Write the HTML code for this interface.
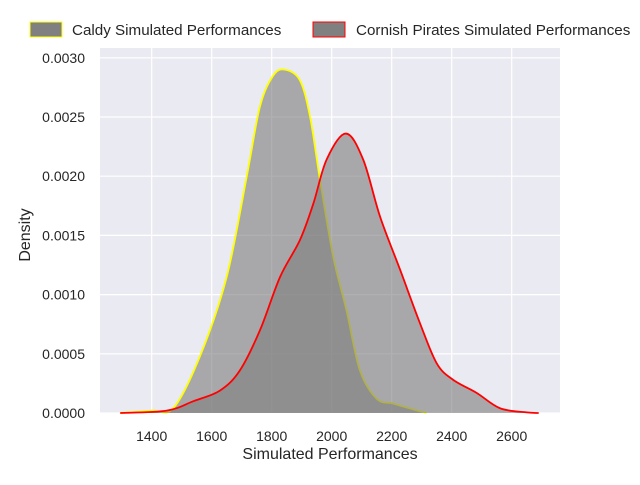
<!DOCTYPE html>
<html><head><meta charset="utf-8"><style>
body{margin:0;background:#fff;}
svg text{font-family:"Liberation Sans","DejaVu Sans",sans-serif;fill:#262626;}
</style></head><body>
<svg id="chart" width="640" height="480" viewBox="0 0 640 480" xmlns="http://www.w3.org/2000/svg">
<rect x="100" y="48" width="460" height="365" fill="#eaeaf2"/>
<g id="grid"></g>
<g id="series"></g>
<g id="ticks"></g>
<text x="330" y="459" text-anchor="middle" font-size="16">Simulated Performances</text>
<text transform="translate(30,235) rotate(-90)" text-anchor="middle" font-size="16">Density</text>
<g>
<rect x="30" y="22" width="32" height="15" fill="#808080" stroke="#ffff00" stroke-width="1"/>
<text x="72" y="35" font-size="15.2">Caldy Simulated Performances</text>
</g>
<g>
<rect x="313" y="22" width="32" height="15" fill="#808080" stroke="#ff0000" stroke-width="1"/>
<text x="356" y="35" font-size="15.2">Cornish Pirates Simulated Performances</text>
</g>
</svg>
<script>
const xTicks=[1400,1600,1800,2000,2200,2400,2600];
const yTicks=[0,0.0005,0.001,0.0015,0.002,0.0025,0.003];
const yTickLabels=["0.0000","0.0005","0.0010","0.0015","0.0020","0.0025","0.0030"];
const caldyX=[1295,1400,1472,1561,1650,1717,1761,1805,1844,1894,1928,1961,2005,2049,2094,2150,2205,2272,2316];
const caldyD=[0,0.00002,0.00004,0.00048,0.00115,0.002,0.00259,0.00285,0.0029,0.00281,0.0025,0.00197,0.00132,0.00087,0.00036,0.00012,0.00008,0.00003,0];
const cornishX=[1295,1450,1539,1628,1694,1761,1828,1894,1939,1983,2047,2105,2161,2228,2294,2350,2405,2483,2561,2650,2690];
const cornishD=[0,0.00002,0.0001,0.00019,0.00036,0.0007,0.00115,0.00146,0.00177,0.00214,0.00236,0.00214,0.00166,0.00121,0.00076,0.00042,0.00028,0.00017,0.00004,0.000005,0];
const NS="http://www.w3.org/2000/svg";
const xs=v=>151.7+(v-1400)*0.3;
const ys=d=>413-d*118400;
const grid=document.getElementById('grid'),ticks=document.getElementById('ticks'),series=document.getElementById('series');
xTicks.forEach(t=>{
  const l=document.createElementNS(NS,'line');
  l.setAttribute('x1',xs(t));l.setAttribute('x2',xs(t));l.setAttribute('y1',48);l.setAttribute('y2',413);
  l.setAttribute('stroke','#fff');l.setAttribute('stroke-width','1.2');
  
  
  grid.appendChild(l);
  const tx=document.createElementNS(NS,'text');
  tx.setAttribute('x',xs(t));tx.setAttribute('y',441);tx.setAttribute('text-anchor','middle');tx.setAttribute('font-size','14');
  tx.textContent=t;
  
  
  ticks.appendChild(tx);
});
yTicks.forEach((t,i)=>{
  const l=document.createElementNS(NS,'line');
  l.setAttribute('x1',100);l.setAttribute('x2',560);l.setAttribute('y1',ys(t));l.setAttribute('y2',ys(t));
  l.setAttribute('stroke','#fff');l.setAttribute('stroke-width','1.2');
  
  
  grid.appendChild(l);
  const tx=document.createElementNS(NS,'text');
  tx.setAttribute('x',85);tx.setAttribute('y',ys(t)+5);tx.setAttribute('text-anchor','end');tx.setAttribute('font-size','14');
  tx.textContent=yTickLabels[i];
  
  
  ticks.appendChild(tx);
});
function smoothPath(X,D){
  const p=X.map((v,i)=>[xs(v),ys(D[i])]);
  let s='M'+p[0][0]+','+p[0][1];
  for(let i=0;i<p.length-1;i++){
    const p0=p[i-1]||p[i],p1=p[i],p2=p[i+1],p3=p[i+2]||p2;
    const c1=[p1[0]+(p2[0]-p0[0])/6,p1[1]+(p2[1]-p0[1])/6];
    const c2=[p2[0]-(p3[0]-p1[0])/6,p2[1]-(p3[1]-p1[1])/6];
    s+=' C'+c1[0]+','+c1[1]+' '+c2[0]+','+c2[1]+' '+p2[0]+','+p2[1];
  }
  return s;
}
function draw(X,D,color,name){
  const d=smoothPath(X,D);
  const f=document.createElementNS(NS,'path');
  f.setAttribute('d',d+' L'+xs(X[X.length-1])+','+ys(0)+' L'+xs(X[0])+','+ys(0)+' Z');
  f.setAttribute('fill','#808080');f.setAttribute('fill-opacity','0.62');
  
  
  series.appendChild(f);
  const l=document.createElementNS(NS,'path');
  l.setAttribute('d',d);l.setAttribute('fill','none');l.setAttribute('stroke',color);l.setAttribute('stroke-width','1.8');
  
  
  series.appendChild(l);
}
draw(caldyX,caldyD,'#ffff00','caldy-kde');
draw(cornishX,cornishD,'#ff0000','cornish-kde');
</script>
</body></html>
